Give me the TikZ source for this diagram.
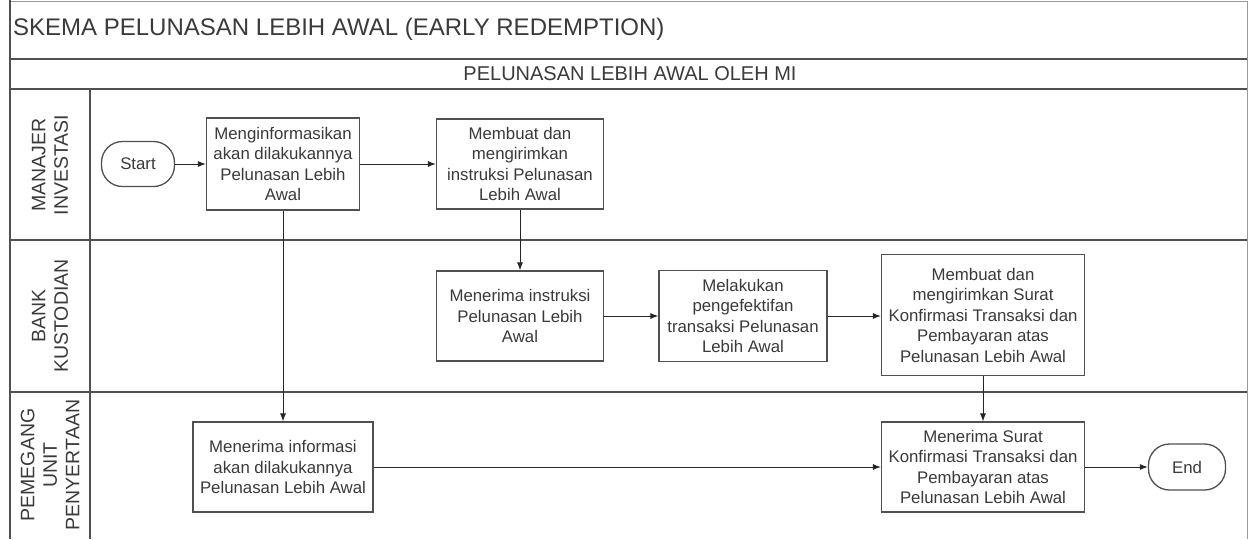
\documentclass[tikz,border=0pt]{standalone}
\usepackage{fontspec}
\setmainfont{Liberation Sans}
\usetikzlibrary{arrows.meta}

\definecolor{ink}{HTML}{3A3A3A}
\definecolor{rule}{HTML}{505050}
\definecolor{frame}{HTML}{9A9A9A}

\tikzset{
  procbox/.style={draw=rule, line width=1.1pt, fill=white, align=center,
    font=\fontsize{16.8}{20.5}\selectfont, text=ink, inner sep=0pt},
  terminal/.style={draw=rule, line width=1.3pt, fill=white, rounded corners=21pt,
    align=center, font=\fontsize{16.8}{20.5}\selectfont, text=ink, inner sep=0pt},
  flow/.style={draw=black!85, line width=1pt, -{Latex[length=8pt,width=6pt]}},
  lanerule/.style={draw=rule, line width=2pt},
  lanelabel/.style={rotate=90, align=center, font=\fontsize{19.5}{22.5}\selectfont, text=ink},
}

\begin{document}
\begin{tikzpicture}[x=1pt,y=-1pt]
  \useasboundingbox (0,0) rectangle (1250,539);

  % outer frame and swimlane rules
  \draw[frame, line width=1pt] (10,1) -- (1247,1) -- (1247,539);
  \draw[lanerule] (10,0) -- (10,539);
  \draw[lanerule] (10,59) -- (1247,59);
  \draw[lanerule] (10,89) -- (1247,89);
  \draw[lanerule] (10,240) -- (1247,240);
  \draw[lanerule] (10,392) -- (1247,392);
  \draw[lanerule] (90,89) -- (90,539);

  % headings
  \node[anchor=west, text=ink, font=\fontsize{24}{28}\selectfont, inner sep=0pt]
    (title) at (13,29) {SKEMA PELUNASAN LEBIH AWAL (EARLY REDEMPTION)};
  \node[text=ink, font=\fontsize{20}{24}\selectfont, inner sep=0pt]
    (pool) at (630,74) {PELUNASAN LEBIH AWAL OLEH MI};

  % lane labels
  \node[lanelabel] (laneMI) at (50,165) {MANAJER\\INVESTASI};
  \node[lanelabel] (laneBK) at (50,316) {BANK\\KUSTODIAN};
  \node[lanelabel] (lanePU) at (50,465) {PEMEGANG\\UNIT\\PENYERTAAN};

  % process steps
  \node[terminal, minimum width=73pt, minimum height=45pt] (start) at (138,164) {Start};
  \node[procbox, minimum width=153pt, minimum height=92pt] (inform) at (283,164)
    {Menginformasikan\\akan dilakukannya\\Pelunasan Lebih\\Awal};
  \node[procbox, minimum width=167pt, minimum height=90pt] (instr) at (520,164)
    {Membuat dan\\mengirimkan\\instruksi Pelunasan\\Lebih Awal};
  \node[procbox, minimum width=167pt, minimum height=90pt] (recv) at (520,316)
    {Menerima instruksi\\Pelunasan Lebih\\Awal};
  \node[procbox, minimum width=168pt, minimum height=91pt] (effect) at (743,316)
    {Melakukan\\pengefektifan\\transaksi Pelunasan\\Lebih Awal};
  \node[procbox, minimum width=203pt, minimum height=121pt] (confirm) at (983,315)
    {Membuat dan\\mengirimkan Surat\\Konfirmasi Transaksi dan\\Pembayaran atas\\Pelunasan Lebih Awal};
  \node[procbox, minimum width=180pt, minimum height=90pt] (info) at (283,467)
    {Menerima informasi\\akan dilakukannya\\Pelunasan Lebih Awal};
  \node[procbox, minimum width=203pt, minimum height=90pt] (letter) at (983,467)
    {Menerima Surat\\Konfirmasi Transaksi dan\\Pembayaran atas\\Pelunasan Lebih Awal};
  \node[terminal, minimum width=77pt, minimum height=46pt] (end) at (1187,467) {End};

  % connectors
  \draw[flow] (start) -- (inform);
  \draw[flow] (inform) -- (instr);
  \draw[flow] (inform.south) -- (info.north);
  \draw[flow] (instr) -- (recv);
  \draw[flow] (recv) -- (effect);
  \draw[flow] (effect) -- (effect -| confirm.west);
  \draw[flow] (confirm) -- (letter);
  \draw[flow] (info) -- (letter);
  \draw[flow] (letter) -- (end);
\end{tikzpicture}
\end{document}
